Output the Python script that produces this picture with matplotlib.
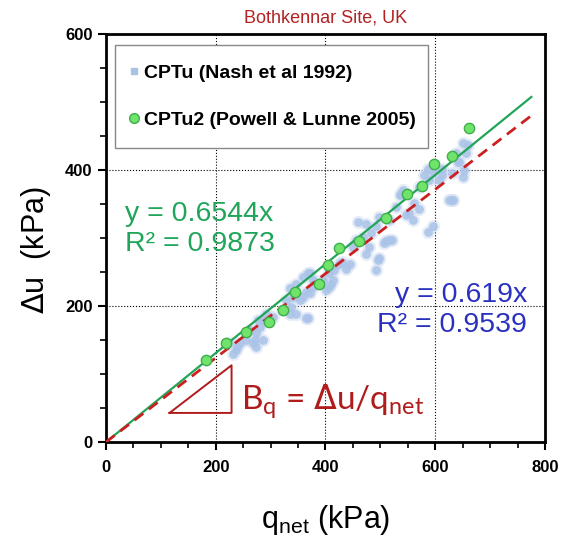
import numpy as np
import matplotlib.pyplot as plt
from matplotlib.lines import Line2D

plt.rcParams['font.family'] = ['Liberation Sans', 'DejaVu Sans']

# CPTu data, Nash et al (1992)
nash_q = [650, 656, 641, 653, 650, 631, 613, 607, 595, 586, 580, 589, 631, 625, 595, 586,
          561, 570, 547, 541, 538, 529, 516, 522, 510, 492, 495, 492, 483, 474, 459, 468,
          456, 480, 474, 444, 438, 425, 416, 407, 413, 395, 407, 377, 365, 359, 353, 368,
          359, 347, 335, 329, 338, 347, 368, 304, 292, 286, 280, 274, 268, 274, 256, 244,
          237, 231, 225, 262, 371, 371, 341, 322, 335, 365, 277, 271, 286, 238, 410, 535,
          559, 498, 516, 507, 498, 450, 431, 401, 377, 638, 644, 613, 571, 553, 659, 632]
nash_du = [439, 425, 412, 400, 390, 395, 392, 385, 397, 402, 392, 385, 356, 356, 317, 309,
           351, 343, 334, 371, 364, 346, 327, 297, 295, 253, 268, 317, 307, 321, 324, 302,
           297, 287, 277, 262, 255, 262, 253, 248, 238, 238, 228, 228, 221, 213, 209, 248,
           243, 233, 226, 209, 199, 189, 182, 184, 189, 179, 169, 160, 145, 140, 150, 145,
           135, 130, 145, 165, 248, 219, 214, 194, 189, 182, 179, 150, 150, 140, 233, 363,
           326, 331, 297, 292, 270, 287, 265, 224, 238, 425, 412, 402, 375, 336, 436, 356]

# CPTu2 data, Powell & Lunne (2005)
powell_q = [183, 219, 256, 297, 322, 345, 389, 404, 424, 462, 511, 548, 575, 598, 631, 661]
powell_du = [121, 146, 162, 177, 194, 220, 233, 260, 285, 296, 329, 364, 376, 408, 420, 461]

slope_powell = 0.6544
slope_nash = 0.619

fig = plt.figure(figsize=(5.66, 5.36), dpi=100)
ax = fig.add_axes([0.187, 0.175, 0.776, 0.762])

# blue points drawn as soft blobs
ax.scatter(nash_q, nash_du, s=90, marker='o', color='#cfddf2', alpha=0.5,
           linewidths=0, zorder=2)
ax.scatter(nash_q, nash_du, s=40, marker='o', color='#aac3e8', alpha=0.85,
           linewidths=0, zorder=2)

ax.scatter(powell_q, powell_du, s=55, marker='o', facecolor='#6fe36a',
           edgecolor='#3fae4a', linewidths=1.0, zorder=4)

xfit = np.array([0, 775])
ax.plot(xfit, slope_powell * xfit, color='#22a558', lw=1.6, zorder=3)
ax.plot(xfit, slope_nash * xfit, color='#cc2020', lw=2.0, ls=(0, (4, 2.5)), zorder=3)

# slope triangle
tri_x = [116, 229, 229, 116]
tri_y = [43, 113, 43, 43]
ax.plot(tri_x, tri_y, color='#b01c1c', lw=1.4, zorder=3)
ax.text(246, 60, r'B$_\mathregular{q}$ = $\Delta$u/q$_\mathregular{net}$', color='#b01c1c',
        fontsize=24, va='center', ha='left', family='Lato')

ax.text(34, 313, 'y = 0.6544x\nR\u00b2 = 0.9873', color='#20a55a', fontsize=20.5,
        va='center', ha='left', linespacing=1.2)
ax.text(767, 194, 'y = 0.619x\nR\u00b2 = 0.9539', color='#2a30c0', fontsize=20.5,
        va='center', ha='right', multialignment='right', linespacing=1.2)

ax.set_xlim(0, 800)
ax.set_ylim(0, 600)
ax.set_xticks([0, 200, 400, 600, 800])
ax.set_yticks([0, 200, 400, 600])
ax.set_xticks(np.arange(0, 801, 50), minor=True)
ax.set_yticks(np.arange(0, 601, 50), minor=True)
ax.tick_params(which='major', direction='out', length=6, width=1.5, labelsize=12)
ax.tick_params(axis='x', which='major', pad=7)
ax.tick_params(which='minor', direction='out', length=4, width=1.2)
for lab in ax.get_xticklabels() + ax.get_yticklabels():
    lab.set_fontweight('bold')
for sp in ax.spines.values():
    sp.set_linewidth(2.0)
ax.grid(True, which='major', color='black', ls=':', lw=0.8)

ax.set_xlabel('q$_\\mathregular{net}$ (kPa)', fontsize=22, labelpad=20)
ax.set_ylabel('$\\Delta$u  (kPa)', fontsize=22)
ax.yaxis.set_label_coords(-0.12, 0.47)
ax.set_title('Bothkennar Site, UK', color='#b22222', fontsize=13, pad=8)

handles = [
    Line2D([], [], ls='none', marker='s', ms=4, color='#a9c2e6'),
    Line2D([], [], ls='none', marker='o', ms=7, markerfacecolor='#6fe36a',
           markeredgecolor='#3fae4a'),
]
leg = ax.legend(handles, ['CPTu (Nash et al 1992)', 'CPTu2 (Powell & Lunne 2005)'],
                loc='upper left', bbox_to_anchor=(0.0205, 0.5, 0.713, 0.473), mode='expand',
                borderaxespad=0, fancybox=False, framealpha=1, edgecolor='#888888',
                prop={'weight': 'bold', 'size': 14},
                labelspacing=1.5, borderpad=1.0, handletextpad=0.5, handlelength=0)
leg.get_frame().set_linewidth(1.0)

fig.savefig('out.png', dpi=100)
